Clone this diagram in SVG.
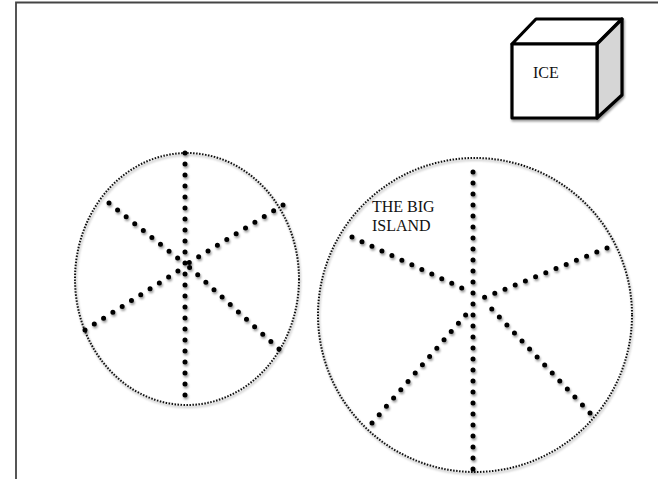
<svg xmlns="http://www.w3.org/2000/svg" width="658" height="479" viewBox="0 0 658 479">
<defs>
<style>
.frame{fill:none;stroke:#444;stroke-width:1.8}
.rim{fill:none;stroke:#111;stroke-width:2;stroke-dasharray:1.5 1.5}
.spoke{fill:none;stroke:#000;stroke-width:5;stroke-linecap:round;stroke-dasharray:0 11}
.lbl{font-family:"Liberation Serif","Times New Roman",serif;font-size:16px;fill:#111}
.cube{stroke:#000;stroke-width:3.2;stroke-linejoin:round}
</style>
<filter id="sh" x="-10%" y="-10%" width="130%" height="130%">
<feDropShadow dx="1" dy="2" stdDeviation="1.2" flood-color="#000" flood-opacity="0.4"/>
</filter>
</defs>
<rect width="658" height="479" fill="#fff"/>
<path class="frame" d="M16,479 V2.5 H658"/>
<g id="ice">
<g filter="url(#sh)">
<polygon class="cube" points="512,44 536,19 622,19 597,44" fill="#fff"/>
<polygon class="cube" points="597,44 622,19 622,95 597,118" fill="#d6d6d6"/>
<rect class="cube" x="512" y="44" width="85" height="74" fill="#fff"/>
</g>
<text class="lbl" x="533" y="78">ICE</text>
</g>
<g id="small-island">
<g filter="url(#sh)">
<ellipse class="rim" cx="187" cy="279" rx="112" ry="126"/>
<line class="spoke" x1="185" y1="153" x2="185" y2="399"/>
<line class="spoke" x1="109" y1="203" x2="185" y2="264"/>
<line class="spoke" x1="283" y1="205" x2="187" y2="264"/>
<line class="spoke" x1="85" y1="330" x2="186" y2="266"/>
<line class="spoke" x1="279" y1="349" x2="188" y2="266"/>
</g>
</g>
<g id="big-island">
<g filter="url(#sh)">
<circle class="rim" cx="475" cy="315" r="157"/>
<line class="spoke" x1="473" y1="172" x2="473" y2="472"/>
<line class="spoke" x1="352" y1="237" x2="466" y2="290"/>
<line class="spoke" x1="607" y1="248" x2="483" y2="298"/>
<line class="spoke" x1="372" y1="423" x2="469" y2="311"/>
<line class="spoke" x1="590" y1="413" x2="487" y2="304"/>
</g>
<text class="lbl" x="372" y="212">THE BIG</text>
<text class="lbl" x="372" y="231">ISLAND</text>
</g>
</svg>
